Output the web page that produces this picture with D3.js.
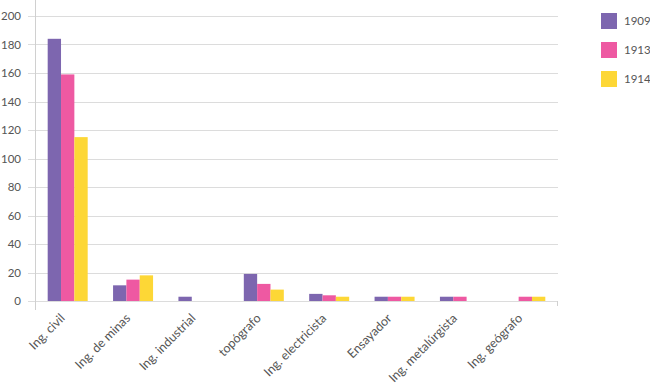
<!DOCTYPE html>
<html>
<head>
<meta charset="utf-8">
<script src="https://cdn.jsdelivr.net/npm/d3@7"></script>
<style>
  body { margin: 0; background: #fff; }
  text { font-family: Lato, "Open Sans", sans-serif; fill: #555; }
</style>
</head>
<body>
<div id="chart"></div>
<script>
var categories = ["Ing. civil", "Ing. de minas", "Ing. industrial", "topógrafo",
                  "Ing. electricista", "Ensayador", "Ing. metalúrgista", "Ing. geógrafo"];
var years = ["1909", "1913", "1914"];
var v1909 = [184, 11, 3, 19, 5, 3, 3, 0];
var v1913 = [159, 15, 0, 12, 4, 3, 3, 3];
var v1914 = [115, 18, 0, 8, 3, 3, 0, 3];
var yTicks = [0, 20, 40, 60, 80, 100, 120, 140, 160, 180, 200];
var colors = ["#7d66af", "#ee59a2", "#fdd736"];

var series = [v1909, v1913, v1914];

var width = 650, height = 386;
var margin = {top: 16, right: 92, bottom: 85, left: 35};

var svg = d3.select("#chart").append("svg")
    .attr("width", width)
    .attr("height", height);

var x = d3.scaleBand().domain(categories)
    .range([margin.left, width - margin.right]);
var y = d3.scaleLinear().domain([0, 200])
    .range([height - margin.bottom, margin.top]);
var xs = d3.scaleBand().domain(years)
    .range([0, 40]);

// gridlines
svg.append("g")
    .selectAll("line")
    .data(yTicks)
    .enter().append("line")
    .attr("x1", margin.left - 7)
    .attr("x2", width - margin.right)
    .attr("y1", function(d) { return Math.round(y(d)) + 0.5; })
    .attr("y2", function(d) { return Math.round(y(d)) + 0.5; })
    .attr("stroke", "#dcdcdc");

// y axis line
svg.append("line")
    .attr("x1", margin.left + 0.5).attr("x2", margin.left + 0.5)
    .attr("y1", 0).attr("y2", height - margin.bottom + 9)
    .attr("stroke", "#d0d0d0");

// right end tick
svg.append("line")
    .attr("x1", width - margin.right - 0.5).attr("x2", width - margin.right - 0.5)
    .attr("y1", y(0)).attr("y2", y(0) + 5)
    .attr("stroke", "#d0d0d0");

// y labels
svg.append("g")
    .selectAll("text")
    .data(yTicks)
    .enter().append("text")
    .attr("x", 21)
    .attr("y", function(d) { return y(d); })
    .attr("dy", "0.35em")
    .attr("text-anchor", "end")
    .style("font-size", "11.5px")
    .text(function(d) { return d; });

// bars
var groups = svg.append("g")
    .selectAll("g")
    .data(categories)
    .enter().append("g")
    .attr("transform", function(d) {
        return "translate(" + (x(d) + x.bandwidth() / 2 - 20) + ",0)";
    });

groups.selectAll("rect")
    .data(function(d, i) {
        return years.map(function(yr, j) { return {year: yr, value: series[j][i], k: j}; });
    })
    .enter().append("rect")
    .filter(function(d) { return d.value > 0; })
    .attr("x", function(d) { return xs(d.year); })
    .attr("width", xs.bandwidth())
    .attr("y", function(d) { return y(d.value); })
    .attr("height", function(d) { return y(0) - y(d.value); })
    .attr("fill", function(d) { return colors[d.k]; });

// x labels
svg.append("g")
    .selectAll("text")
    .data(categories)
    .enter().append("text")
    .attr("text-anchor", "end")
    .style("font-size", "12.5px")
    .attr("transform", function(d) {
        return "translate(" + (x(d) + x.bandwidth() / 2 - 2) + "," + (y(0) + 18) + ") rotate(-45)";
    })
    .text(function(d) { return d; });

// legend
var legend = svg.append("g")
    .selectAll("g")
    .data(years)
    .enter().append("g")
    .attr("transform", function(d, i) { return "translate(601," + (13 + i * 29) + ")"; });

legend.append("rect")
    .attr("width", 16).attr("height", 16)
    .attr("fill", function(d, i) { return colors[i]; });

legend.append("text")
    .attr("x", 23).attr("y", 8)
    .attr("dy", "0.35em")
    .style("font-size", "11.5px")
    .text(function(d) { return d; });
</script>
</body>
</html>
